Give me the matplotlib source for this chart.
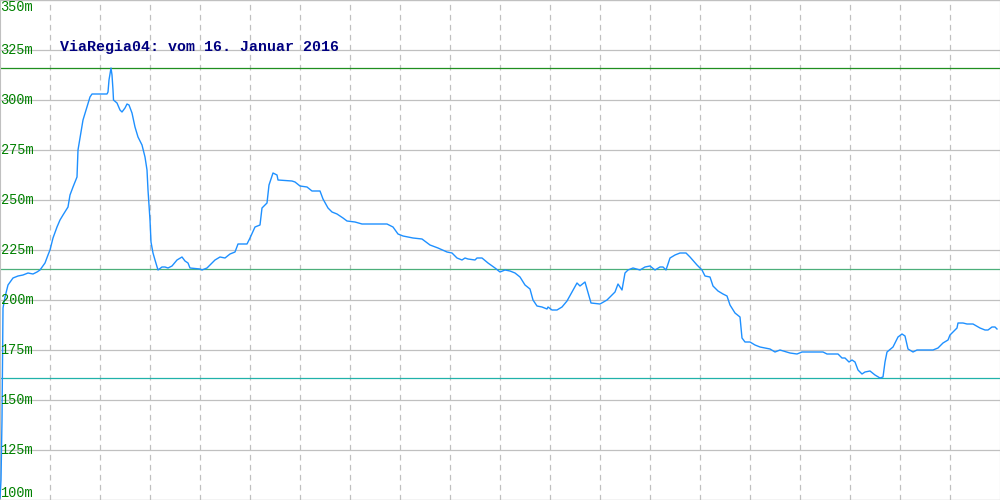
import matplotlib.pyplot as plt

# Höhenprofil: Position (Bildspalte) und Höhe in m
dist = [0, 1, 2, 3, 5, 8, 13, 18, 23, 28, 33, 37, 40, 45, 48, 50, 53, 57, 60, 63,
        68, 70, 73, 77, 78, 80, 83, 87, 90, 92, 107, 108, 109, 111, 112, 113, 113.5,
        117, 120, 122, 125, 127, 129, 132, 135, 138, 142, 145, 147, 148, 150, 151,
        153, 155, 158, 162, 165, 168, 172, 177, 182, 185, 188, 190, 200, 202, 207,
        215, 220, 225, 230, 235, 238, 247, 250, 255, 260, 262, 267, 269, 273, 277,
        278, 292, 295, 300, 307, 312, 320, 323, 328, 332, 337, 343, 347, 355, 362,
        387, 393, 398, 403, 408, 413, 422, 430, 438, 447, 452, 457, 462, 465, 468,
        475, 477, 482, 488, 495, 500, 505, 510, 515, 520, 525, 530, 533, 537, 542,
        547, 548, 552, 557, 562, 567, 572, 577, 580, 585, 591, 600, 607, 615, 618,
        622, 625, 628, 633, 640, 645, 650, 655, 660, 663, 666, 670, 675, 680, 686,
        690, 697, 702, 705, 710, 713, 718, 723, 727, 730, 735, 740, 742, 745, 750,
        755, 760, 770, 775, 780, 790, 797, 802, 823, 827, 838, 842, 845, 849, 852,
        855, 858, 862, 865, 870, 875, 880, 883, 885, 887, 893, 898, 902, 905, 908,
        913, 917, 933, 938, 943, 948, 950, 953, 957, 958, 963, 967, 973, 980, 985,
        988, 992, 995, 997]
elev = [101, 110, 140, 196, 201.5, 207.5, 211, 212, 212.5, 213.5, 213, 214, 215,
        218.5, 222.5, 225, 231, 236.5, 240, 242.5, 246.5, 252.5, 256.5, 261.5, 275,
        281, 290, 296.5, 301.5, 303, 303, 304, 310, 316, 312.5, 305, 300, 298.5, 295,
        294, 296, 298, 297.5, 293.5, 286.5, 281.5, 277.5, 271.5, 265, 255, 240, 229,
        223.5, 220, 215, 216.5, 216.5, 216, 217, 220, 221.5, 219.5, 218.5, 216,
        215.5, 215, 216, 220, 221.5, 221, 223, 224, 228, 228, 231, 236.5, 237.5, 246,
        248.5, 257.5, 263.5, 262.5, 260, 259.5, 259, 257, 256.5, 254.5, 254.5, 250.5,
        246, 244, 243, 241, 239.5, 239, 238, 238, 236.5, 233, 232, 231.5, 231, 230.5,
        227.5, 226, 224, 223.5, 221, 220, 221, 220.5, 220, 221, 221, 218.5, 216, 214,
        215, 214.5, 213.5, 211.5, 207.5, 205.5, 200, 197, 196.5, 195.5, 196.5, 195,
        195, 196.5, 199.5, 204, 208.5, 207, 209, 198.5, 198, 200, 204, 208, 205,
        213.5, 215, 216, 215, 216.5, 217, 215, 216.5, 216.5, 215, 221, 222.5, 223.5,
        223.5, 221.5, 217.5, 215, 212, 211.5, 207, 204.5, 203, 202, 197.5, 193.5,
        191.5, 181, 179, 179, 177.5, 176.5, 175.5, 174, 175, 173.5, 173, 174, 174,
        173, 173, 171, 171, 169, 170, 169, 165, 163, 164, 164.5, 162.5, 161, 161.5,
        169, 174, 176.5, 181.5, 183, 182, 175.5, 174, 175, 175, 176, 178.5, 180,
        182.5, 184, 186, 188.5, 188.5, 188, 188, 186, 185, 185, 186.5, 186.5, 185.5]

elev_max = 316
elev_mid = 215.5
elev_min = 161
y_ticks = [100, 125, 150, 175, 200, 225, 250, 275, 300, 325, 350]
title = "ViaRegia04: vom 16. Januar 2016"

fig = plt.figure(figsize=(10, 5), dpi=100)
ax = fig.add_axes([0, 0, 1, 1])
ax.set_xlim(0, 1000)
ax.set_ylim(100, 350)

# Gitter
for y in y_ticks:
    ax.axhline(y, color="#c0c0c0", lw=0.9, zorder=1)
for x in range(50, 1000, 50):
    ax.axvline(x, color="#c0c0c0", lw=0.9, ls=(0, (4.5, 3.5)), zorder=1)

ax.axhline(elev_max, color="#1f8f1f", lw=0.9, zorder=2)
ax.axhline(elev_mid, color="#4caf7a", lw=0.9, zorder=2)
ax.axhline(elev_min, color="#20b2aa", lw=0.9, zorder=2)

ax.plot(dist, elev, color="#1e90ff", lw=1.0, zorder=3)

for y in y_ticks:
    va = "center"
    if y == 350:
        va = "top"
    elif y == 100:
        va = "bottom"
    ax.text(0.5, y, f"{y}m", color="#008000", fontsize=9.8,
            family="Liberation Mono", va=va, ha="left", zorder=4)

ax.text(60, 326.5, title, color="#000080", fontsize=10.8, family="Liberation Mono",
        fontweight="bold", va="center", ha="left", zorder=4)

ax.set_xticks([])
ax.set_yticks([])
for s in ax.spines.values():
    s.set_color("#c0c0c0")

fig.savefig("out.png", dpi=100)
